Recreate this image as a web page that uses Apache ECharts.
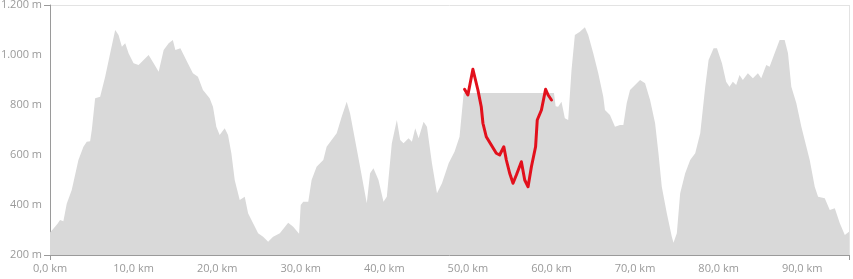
<!DOCTYPE html>
<html>
<head>
<meta charset="utf-8">
<script src="https://cdn.jsdelivr.net/npm/echarts@6/dist/echarts.min.js"></script>
<style>
html,body{margin:0;padding:0;background:#fff;}
#chart{width:853px;height:279px;}
</style>
</head>
<body>
<div id="chart"></div>
<script>
// Elevation profile (gray area): distance in km, elevation in m
var profileKm = [0.0,0.4,0.9,1.2,1.6,2.0,2.6,3.0,3.4,4.0,4.4,4.8,5.0,5.4,6.0,6.6,7.2,7.8,8.2,8.6,9.0,9.4,10.0,10.6,11.2,11.8,12.4,13.0,13.6,14.2,14.7,15.0,15.6,16.4,17.1,17.7,18.3,19.1,19.5,19.9,20.3,20.9,21.3,21.7,22.1,22.7,23.3,23.7,24.3,24.9,25.5,26.1,26.7,27.5,28.5,29.1,29.8,30.0,30.3,30.9,31.3,31.9,32.7,33.1,33.7,34.3,34.9,35.5,35.9,36.5,37.1,37.9,38.3,38.7,39.3,39.9,40.3,40.9,41.5,41.9,42.3,42.9,43.3,43.7,44.1,44.7,45.1,45.7,46.3,46.9,47.7,48.4,49.0,49.5,60.3,60.5,60.8,61.2,61.6,62.0,62.4,62.8,63.4,64.0,64.4,65.0,65.6,66.2,66.4,67.0,67.6,68.2,68.6,69.0,69.4,70.0,70.6,71.2,71.8,72.4,72.8,73.2,73.8,74.4,74.6,75.0,75.4,76.0,76.6,77.2,77.8,78.4,78.8,79.4,79.8,80.4,80.9,81.3,81.7,82.1,82.5,82.9,83.5,84.1,84.7,85.1,85.7,86.1,86.7,87.3,87.9,88.3,88.7,89.3,89.9,90.5,90.9,91.5,91.9,92.7,93.3,93.9,94.5,95.1,95.6];
var profileElev = [290,305,325,340,335,405,460,520,580,633,653,655,700,827,833,913,1007,1100,1080,1033,1047,1007,967,960,980,1000,967,933,1020,1047,1060,1020,1027,973,927,913,860,827,793,713,680,707,680,607,500,420,433,367,327,287,273,253,273,287,329,313,285,400,413,413,500,553,580,633,660,687,753,813,767,660,553,407,527,547,500,413,433,647,740,660,647,667,653,707,667,733,713,567,447,487,567,613,673,848,848,795,793,813,747,740,940,1080,1093,1111,1080,1007,927,833,780,760,713,720,720,807,860,880,900,887,820,727,607,473,367,273,249,287,447,527,580,607,687,873,980,1027,1027,967,893,873,893,880,920,900,927,907,927,907,960,953,1007,1060,1060,1007,873,807,713,633,580,473,433,427,380,387,327,280,293];

// Highlighted segment (red line)
var segmentKm = [49.6,50.0,50.6,51.2,51.6,51.8,52.2,52.8,53.4,53.8,54.3,54.6,55.0,55.4,55.8,56.4,56.8,57.2,57.6,58.1,58.3,58.8,59.3,59.6,60.0];
var segmentElev = [863,840,943,860,793,727,673,640,607,600,633,580,527,487,520,573,500,473,553,633,740,780,863,840,820];

// Axis ticks
var xTickValues = [0,10,20,30,40,50,60,70,80,90];
var yTickValues = [200,400,600,800,1000,1200];

function pairs(a, b) { return a.map(function (v, i) { return [v, b[i]]; }); }

var chart = echarts.init(document.getElementById('chart'), null, { renderer: 'canvas' });
var labelFont = { color: '#9a9a9a', fontSize: 11, fontFamily: '"Open Sans", "Noto Sans", sans-serif' };

chart.setOption({
  animation: false,
  backgroundColor: '#ffffff',
  grid: { left: 50, right: 4, top: 5, bottom: 24, containLabel: false, outerBoundsMode: 'none' },
  xAxis: {
    type: 'value',
    min: 0,
    max: profileKm[profileKm.length - 1],
    interval: 10,
    axisLine: { show: true, lineStyle: { color: '#9a9a9a', width: 1 } },
    axisTick: { show: true, customValues: [0, profileKm[profileKm.length - 1]], length: 5, lineStyle: { color: '#9a9a9a' } },
    axisLabel: Object.assign({
      customValues: xTickValues,
      margin: 8,
      formatter: function (v) { return v.toFixed(1).replace('.', ',') + ' km'; }
    }, labelFont),
    splitLine: { show: true, lineStyle: { color: '#e3e3e3', width: 1 } }
  },
  yAxis: {
    type: 'value',
    min: 200,
    max: 1200,
    interval: 200,
    axisLine: { show: true, lineStyle: { color: '#9a9a9a', width: 1 } },
    axisTick: { show: true, customValues: [200, 1200], length: 6, lineStyle: { color: '#9a9a9a' } },
    axisLabel: Object.assign({
      customValues: yTickValues,
      margin: 8,
      formatter: function (v) { return v.toString().replace(/\B(?=(\d{3})+(?!\d))/g, '.') + ' m'; }
    }, labelFont),
    splitLine: { show: true, lineStyle: { color: '#e3e3e3', width: 1 } }
  },
  series: [
    {
      type: 'line',
      data: pairs(profileKm, profileElev),
      showSymbol: false,
      symbol: 'none',
      lineStyle: { width: 0, color: '#d9d9d9' },
      areaStyle: { color: '#d9d9d9', opacity: 1 },
      z: 1
    },
    {
      type: 'line',
      data: pairs(segmentKm, segmentElev),
      showSymbol: false,
      symbol: 'none',
      lineStyle: { width: 3, color: '#e2101c', join: 'round', cap: 'round' },
      z: 3
    }
  ]
});
</script>
</body>
</html>
